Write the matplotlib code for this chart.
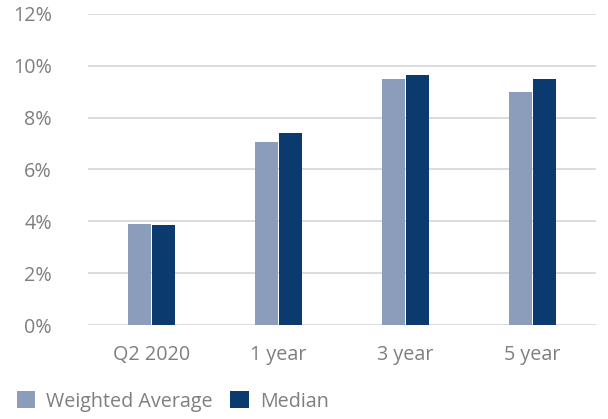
import numpy as np
import matplotlib.pyplot as plt

categories = ["Q2 2020", "1 year", "3 year", "5 year"]
weighted_avg = [3.91, 7.07, 9.47, 8.97]
median = [3.87, 7.42, 9.66, 9.47]

plt.rcParams['font.family'] = ['Open Sans', 'DejaVu Sans']

fig = plt.figure(figsize=(6.08, 4.19), dpi=100)
ax = fig.add_axes([0.145, 0.224, 0.835, 0.743])

x = np.arange(len(categories))
w = 0.18
ax.bar(x - w / 2 - 0.005, weighted_avg, w, color="#8b9dbb", label="Weighted Average", zorder=3)
ax.bar(x + w / 2 + 0.005, median, w, color="#0b3a6e", label="Median", zorder=3)

ax.set_xlim(-0.5, 3.5)
ax.set_ylim(0, 12)
ax.set_yticks(range(0, 13, 2))
ax.set_yticklabels([f"{v}%" for v in range(0, 13, 2)])
ax.set_xticks(x)
ax.set_xticklabels(categories)
ax.grid(axis="y", color="#d9d9d9", linewidth=1.3, zorder=0)
for s in ax.spines.values():
    s.set_visible(False)
ax.tick_params(axis="both", length=0, labelsize=14.2, labelcolor="#7f7f7f")
ax.tick_params(axis="y", pad=26)
ax.tick_params(axis="x", pad=14)

fig.legend(loc="lower left", bbox_to_anchor=(-0.002, -0.025), ncol=2, frameon=False,
           fontsize=14.2, labelcolor="#7f7f7f", handlelength=0.95, handleheight=0.95,
           handletextpad=0.55, columnspacing=0.9)

fig.savefig("out.png", dpi=100)
